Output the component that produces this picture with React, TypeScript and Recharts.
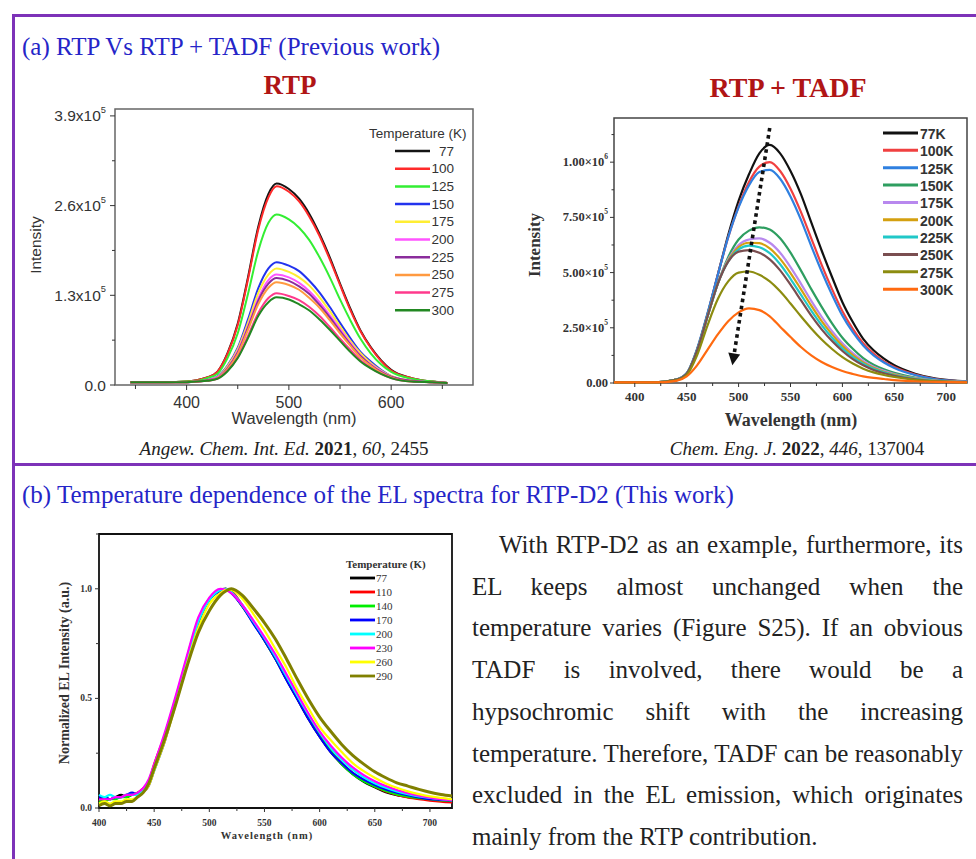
import React from "react";
import { LineChart, Line, XAxis, YAxis, ReferenceArea, ReferenceLine } from "recharts";

/* ────────────────────────────────────────── */
/*  Data: RTP (intensity in 10^3 units)        */
/* ────────────────────────────────────────── */

const rtpWavelengths = [345, 360, 380, 400, 410, 420, 430, 440, 450, 460, 470, 480, 488, 500, 510, 520, 530, 540, 550, 560, 570, 580, 590, 600, 620, 640, 655];

const rtpSeries = [
  { name: "77", color: "#141414", values: [4, 4, 4, 5, 7, 11, 19, 46, 89, 156, 229, 277, 292, 284, 270, 248, 219, 185, 147, 111, 79, 55, 36, 22, 10, 5, 3] },
  { name: "100", color: "#ff2a2a", values: [4, 4, 4, 5, 7, 11, 19, 45, 87, 153, 225, 272, 288, 280, 266, 244, 216, 182, 145, 109, 78, 54, 35, 21, 10, 5, 3] },
  { name: "125", color: "#33ee33", values: [4, 4, 4, 5, 6, 10, 16, 39, 75, 132, 194, 235, 247, 240, 228, 210, 185, 156, 124, 94, 67, 46, 30, 19, 9, 5, 3] },
  { name: "150", color: "#2233ee", values: [4, 4, 4, 4, 5, 7, 12, 28, 54, 95, 140, 169, 178, 173, 165, 151, 134, 113, 90, 68, 48, 34, 22, 13, 6, 4, 3] },
  { name: "175", color: "#ffee33", values: [4, 4, 4, 4, 5, 7, 11, 27, 52, 90, 133, 160, 169, 164, 156, 144, 127, 107, 85, 64, 46, 32, 21, 13, 6, 4, 3] },
  { name: "200", color: "#ff55ff", values: [4, 4, 4, 4, 5, 7, 11, 25, 49, 85, 125, 152, 160, 156, 148, 136, 120, 101, 81, 61, 43, 30, 20, 12, 6, 4, 3] },
  { name: "225", color: "#8b2c9c", values: [4, 4, 4, 4, 5, 7, 10, 24, 47, 83, 122, 147, 155, 151, 143, 132, 116, 98, 78, 59, 42, 29, 19, 12, 6, 4, 3] },
  { name: "250", color: "#ff9a40", values: [4, 4, 4, 4, 5, 6, 10, 23, 45, 80, 117, 141, 149, 145, 138, 126, 112, 94, 75, 57, 40, 28, 18, 11, 5, 4, 3] },
  { name: "275", color: "#ff3a8c", values: [4, 4, 4, 4, 5, 6, 9, 21, 40, 71, 104, 126, 133, 129, 123, 113, 100, 84, 67, 51, 36, 25, 16, 10, 5, 4, 3] },
  { name: "300", color: "#228822", values: [4, 4, 4, 4, 5, 6, 9, 20, 39, 68, 100, 120, 127, 124, 117, 108, 95, 80, 64, 48, 34, 24, 16, 10, 5, 4, 3] },
];

const rtpYTicks = [0, 65, 130, 195, 260, 325, 390];
const rtpYLabels = [0, 130, 260, 390];
const rtpXTicks = [350, 400, 450, 500, 550, 600, 650];
const rtpXLabels = [400, 500, 600];

/* ────────────────────────────────────────── */
/*  Data: RTP + TADF (intensity in 10^5 units) */
/* ────────────────────────────────────────── */

const tadfWavelengths = [380, 400, 420, 440, 450, 460, 470, 480, 490, 500, 510, 520, 530, 540, 550, 560, 570, 580, 590, 600, 610, 620, 630, 640, 650, 670, 690, 720];

const tadfSeries = [
  { name: "77K", color: "#111111", values: [0.03, 0.03, 0.03, 0.15, 0.42, 1.5, 3.1, 4.9, 6.7, 8.25, 9.45, 10.4, 10.78, 10.4, 9.6, 8.55, 7.27, 6.0, 4.8, 3.66, 2.76, 2.0, 1.48, 1.1, 0.8, 0.42, 0.2, 0.08] },
  { name: "100K", color: "#f04040", values: [0.03, 0.03, 0.03, 0.15, 0.42, 1.5, 3.1, 4.9, 6.6, 8.0, 9.1, 9.8, 10.0, 9.6, 8.8, 7.75, 6.55, 5.35, 4.25, 3.25, 2.45, 1.8, 1.33, 0.98, 0.72, 0.38, 0.18, 0.07] },
  { name: "125K", color: "#2f80e0", values: [0.03, 0.03, 0.03, 0.16, 0.45, 1.55, 3.15, 4.9, 6.6, 7.95, 8.95, 9.55, 9.65, 9.25, 8.45, 7.4, 6.2, 5.05, 4.0, 3.05, 2.3, 1.7, 1.25, 0.93, 0.68, 0.36, 0.17, 0.07] },
  { name: "150K", color: "#2e9e60", values: [0.03, 0.03, 0.03, 0.15, 0.42, 1.45, 3.0, 4.5, 5.7, 6.5, 6.9, 7.05, 6.95, 6.55, 5.9, 5.1, 4.25, 3.45, 2.7, 2.05, 1.55, 1.13, 0.83, 0.62, 0.46, 0.25, 0.12, 0.05] },
  { name: "175K", color: "#b888ee", values: [0.03, 0.03, 0.03, 0.15, 0.42, 1.45, 3.0, 4.5, 5.6, 6.25, 6.5, 6.55, 6.35, 5.9, 5.25, 4.5, 3.72, 3.0, 2.35, 1.8, 1.35, 1.0, 0.74, 0.55, 0.41, 0.22, 0.11, 0.05] },
  { name: "200K", color: "#d4a010", values: [0.03, 0.03, 0.03, 0.15, 0.42, 1.45, 3.0, 4.5, 5.55, 6.15, 6.35, 6.33, 6.1, 5.62, 4.98, 4.25, 3.5, 2.8, 2.2, 1.68, 1.26, 0.93, 0.69, 0.51, 0.38, 0.2, 0.1, 0.04] },
  { name: "225K", color: "#20c8c8", values: [0.03, 0.03, 0.03, 0.15, 0.42, 1.45, 3.0, 4.5, 5.5, 6.05, 6.22, 6.15, 5.88, 5.38, 4.72, 4.0, 3.28, 2.62, 2.05, 1.56, 1.17, 0.87, 0.64, 0.48, 0.35, 0.19, 0.09, 0.04] },
  { name: "250K", color: "#7a4e50", values: [0.03, 0.03, 0.03, 0.15, 0.42, 1.45, 3.0, 4.5, 5.5, 5.95, 6.02, 5.9, 5.6, 5.1, 4.45, 3.75, 3.05, 2.43, 1.9, 1.45, 1.08, 0.8, 0.59, 0.44, 0.33, 0.17, 0.08, 0.04] },
  { name: "275K", color: "#8c8c10", values: [0.03, 0.03, 0.03, 0.12, 0.36, 1.25, 2.6, 3.8, 4.6, 5.0, 5.05, 4.9, 4.6, 4.15, 3.6, 3.02, 2.47, 1.97, 1.54, 1.17, 0.88, 0.65, 0.48, 0.36, 0.27, 0.14, 0.07, 0.03] },
  { name: "300K", color: "#ff6a10", values: [0.03, 0.03, 0.03, 0.1, 0.3, 0.8, 1.5, 2.2, 2.8, 3.2, 3.38, 3.3, 3.02, 2.55, 2.08, 1.63, 1.25, 0.95, 0.72, 0.54, 0.41, 0.3, 0.23, 0.18, 0.13, 0.08, 0.05, 0.03] },
];

const tadfYTicks = [0, 1.25, 2.5, 3.75, 5, 6.25, 7.5, 8.75, 10, 11.25];
const tadfYLabels = [0, 2.5, 5, 7.5, 10];
const tadfXTicks = [400, 425, 450, 475, 500, 525, 550, 575, 600, 625, 650, 675, 700];
const tadfXLabels = [400, 450, 500, 550, 600, 650, 700];
// dotted arrow (wavelength, intensity)
const tadfArrow = [{ x: 530, y: 11.55 }, { x: 494, y: 0.8 }];

/* ────────────────────────────────────────── */
/*  Data: EL spectra (normalized)              */
/* ────────────────────────────────────────── */

const elWavelengths = [400, 405, 410, 415, 420, 425, 430, 435, 440, 445, 450, 460, 470, 480, 490, 500, 510, 515, 520, 530, 540, 550, 560, 570, 580, 590, 600, 610, 620, 630, 640, 650, 660, 670, 680, 690, 700, 710, 720];

const elSeries = [
  { name: "77", color: "#000000", values: [0.04, 0.05, 0.04, 0.05, 0.06, 0.05, 0.06, 0.06, 0.08, 0.12, 0.19, 0.33, 0.5, 0.68, 0.85, 0.95, 0.995, 1.0, 0.985, 0.92, 0.845, 0.765, 0.68, 0.585, 0.495, 0.405, 0.325, 0.255, 0.2, 0.155, 0.12, 0.095, 0.072, 0.058, 0.05, 0.045, 0.04, 0.036, 0.034] },
  { name: "110", color: "#ff0000", values: [0.03, 0.04, 0.04, 0.05, 0.05, 0.06, 0.06, 0.07, 0.09, 0.12, 0.2, 0.34, 0.51, 0.69, 0.86, 0.955, 0.995, 1.0, 0.99, 0.925, 0.85, 0.77, 0.685, 0.59, 0.5, 0.41, 0.33, 0.26, 0.205, 0.16, 0.125, 0.098, 0.075, 0.06, 0.048, 0.04, 0.034, 0.029, 0.025] },
  { name: "140", color: "#00ee00", values: [0.03, 0.03, 0.04, 0.04, 0.05, 0.05, 0.06, 0.07, 0.08, 0.12, 0.19, 0.33, 0.5, 0.68, 0.85, 0.95, 0.995, 1.0, 0.985, 0.92, 0.845, 0.765, 0.68, 0.59, 0.5, 0.41, 0.33, 0.26, 0.2, 0.155, 0.122, 0.098, 0.078, 0.062, 0.052, 0.045, 0.04, 0.035, 0.032] },
  { name: "170", color: "#0000ff", values: [0.05, 0.05, 0.04, 0.05, 0.05, 0.06, 0.07, 0.06, 0.07, 0.1, 0.17, 0.31, 0.49, 0.67, 0.84, 0.95, 0.99, 1.0, 0.98, 0.92, 0.84, 0.765, 0.68, 0.584, 0.495, 0.405, 0.325, 0.255, 0.205, 0.16, 0.13, 0.105, 0.085, 0.07, 0.058, 0.048, 0.04, 0.037, 0.035] },
  { name: "200", color: "#00ffff", values: [0.06, 0.05, 0.06, 0.05, 0.05, 0.06, 0.06, 0.06, 0.08, 0.11, 0.17, 0.32, 0.5, 0.68, 0.85, 0.95, 0.995, 1.0, 0.985, 0.925, 0.85, 0.775, 0.69, 0.6, 0.51, 0.425, 0.345, 0.275, 0.22, 0.175, 0.14, 0.113, 0.092, 0.076, 0.063, 0.053, 0.046, 0.04, 0.036] },
  { name: "230", color: "#ff00ff", values: [0.04, 0.04, 0.04, 0.05, 0.05, 0.06, 0.06, 0.07, 0.09, 0.13, 0.2, 0.35, 0.52, 0.7, 0.87, 0.96, 1.0, 0.995, 0.98, 0.925, 0.855, 0.78, 0.7, 0.61, 0.52, 0.43, 0.35, 0.285, 0.23, 0.185, 0.15, 0.122, 0.1, 0.082, 0.068, 0.056, 0.047, 0.04, 0.036] },
  { name: "260", color: "#ffff00", values: [0.02, 0.03, 0.02, 0.03, 0.03, 0.04, 0.04, 0.05, 0.07, 0.1, 0.17, 0.31, 0.48, 0.66, 0.82, 0.93, 0.98, 0.995, 0.995, 0.955, 0.885, 0.81, 0.725, 0.64, 0.54, 0.455, 0.37, 0.31, 0.255, 0.205, 0.168, 0.138, 0.112, 0.092, 0.076, 0.063, 0.053, 0.046, 0.04] },
  { name: "290", color: "#808000", values: [0.01, 0.02, 0.01, 0.02, 0.02, 0.03, 0.03, 0.05, 0.07, 0.11, 0.18, 0.32, 0.48, 0.65, 0.8, 0.9, 0.97, 0.99, 1.0, 0.97, 0.91, 0.845, 0.77, 0.68, 0.585, 0.495, 0.415, 0.35, 0.29, 0.24, 0.2, 0.165, 0.138, 0.115, 0.1, 0.085, 0.072, 0.062, 0.055] },
];

const elYTicks = [0, 0.25, 0.5, 0.75, 1.0, 1.25];
const elYLabels = [0, 0.5, 1.0];
const elXTicks = [400, 425, 450, 475, 500, 525, 550, 575, 600, 625, 650, 675, 700];
const elXLabels = [400, 450, 500, 550, 600, 650, 700];

const paragraphLines = [
  "With RTP-D2 as an example, furthermore, its",
  "EL keeps almost unchanged when the",
  "temperature varies (Figure S25). If an obvious",
  "TADF is involved, there would be a",
  "hypsochromic shift with the increasing",
  "temperature. Therefore, TADF can be reasonably",
  "excluded in the EL emission, which originates",
  "mainly from the RTP contribution.",
];

/* ────────────────────────────────────────── */
/*  Helpers                                    */
/* ────────────────────────────────────────── */

type Series = { name: string; color: string; values: number[] };

function buildRows(xs: number[], series: Series[]) {
  return xs.map((x, i) => {
    const row: Record<string, number> = { x };
    series.forEach((s) => (row[s.name] = s.values[i]));
    return row;
  });
}

const SERIF = "'Liberation Serif', 'Times New Roman', serif";
const SANS = "'Liberation Sans', Arial, sans-serif";
const PURPLE = "#7d32b8";

function makeXTick(o: { labels: number[]; len: number; minorLen: number; gap: number; font: string; size: number; weight?: number; color: string }) {
  return (props: any) => {
    const { x, y, payload } = props;
    const major = o.labels.includes(payload.value);
    return (
      <g>
        <line x1={x} y1={y} x2={x} y2={y + (major ? o.len : o.minorLen)} stroke="#333" strokeWidth={1} />
        {major && (
          <text x={x} y={y + o.gap} textAnchor="middle" dominantBaseline="central" fontFamily={o.font} fontSize={o.size} fontWeight={o.weight ?? 400} fill={o.color}>
            {payload.value}
          </text>
        )}
      </g>
    );
  };
}

function makeYTick(o: { labels: number[]; len: number; minorLen: number; gap: number; font: string; size: number; weight?: number; color: string; render: (v: number) => React.ReactNode }) {
  return (props: any) => {
    const { x, y, payload } = props;
    const major = o.labels.some((l) => Math.abs(l - payload.value) < 1e-9);
    return (
      <g>
        <line x1={x - (major ? o.len : o.minorLen)} y1={y} x2={x} y2={y} stroke="#333" strokeWidth={1} />
        {major && (
          <text x={x - o.gap} y={y} textAnchor="end" dominantBaseline="central" fontFamily={o.font} fontSize={o.size} fontWeight={o.weight ?? 400} fill={o.color}>
            {o.render(payload.value)}
          </text>
        )}
      </g>
    );
  };
}

function Sci({ mant, exp }: { mant: string; exp: string }) {
  return (
    <>
      {mant}
      <tspan dy={-6} fontSize="0.6em">{exp}</tspan>
    </>
  );
}

function Abs({ left, top, style, children }: any) {
  return <div style={{ position: "absolute", left, top, whiteSpace: "nowrap", ...style }}>{children}</div>;
}

function Citation({ cx, top, journal, year, rest }: { cx: number; top: number; journal: string; year: string; rest: React.ReactNode }) {
  return (
    <div style={{ position: "absolute", left: cx - 220, width: 440, top, textAlign: "center", fontFamily: SERIF, fontSize: 19, color: "#222", lineHeight: "22px" }}>
      <i>{journal} </i>
      <b>{year}</b>, {rest}
    </div>
  );
}

/* ────────────────────────────────────────── */
/*  App                                        */
/* ────────────────────────────────────────── */

export default function App() {
  const rtpRows = buildRows(rtpWavelengths, rtpSeries);
  const tadfRows = buildRows(tadfWavelengths, tadfSeries);
  const elRows = buildRows(elWavelengths, elSeries);

  const rtpFmt = (v: number) =>
    v === 0 ? "0.0" : <Sci mant={`${(v / 100).toFixed(1)}x10`} exp="5" />;
  const tadfFmt = (v: number) =>
    v === 0 ? "0.00" : v >= 10 ? <Sci mant={`${(v / 10).toFixed(2)}×10`} exp="6" /> : <Sci mant={`${v.toFixed(2)}×10`} exp="5" />;

  return (
    <div style={{ position: "absolute", left: 0, top: 0, width: 976, height: 859, background: "#fff", overflow: "hidden" }}>
      {/* frame */}
      <div style={{ position: "absolute", left: 12, top: 14, width: 970, height: 3, background: PURPLE }} />
      <div style={{ position: "absolute", left: 12, top: 14, width: 3, height: 850, background: PURPLE }} />
      <div style={{ position: "absolute", left: 12, top: 463, width: 970, height: 3, background: PURPLE }} />

      {/* headings */}
      <Abs left={22} top={32} style={{ fontFamily: SERIF, fontSize: 25, color: "#2525c8", lineHeight: "30px" }}>
        (a) RTP Vs RTP + TADF (Previous work)
      </Abs>
      <Abs left={22} top={480} style={{ fontFamily: SERIF, fontSize: 25, color: "#2525c8", lineHeight: "30px" }}>
        (b) Temperature dependence of the EL spectra for RTP-D2 (This work)
      </Abs>

      {/* ── RTP chart ── */}
      <div style={{ position: "absolute", left: 190, width: 200, top: 70, textAlign: "center", fontFamily: SERIF, fontWeight: 700, fontSize: 27, color: "#b01515", lineHeight: "30px" }}>RTP</div>
      <div style={{ position: "absolute", left: 0, top: 100 }}>
        <LineChart width={490} height={345} data={rtpRows} margin={{ top: 9, right: 17, left: 0, bottom: 0 }}>
          <XAxis dataKey="x" type="number" domain={[330, 680]} ticks={rtpXTicks} interval={0} tickSize={0} tickMargin={0} tickLine={false} axisLine={false} height={60}
            tick={makeXTick({ labels: rtpXLabels, len: 5, minorLen: 4, gap: 17, font: SANS, size: 16, color: "#333" })} />
          <YAxis type="number" domain={[0, 400]} ticks={rtpYTicks} interval={0} tickSize={0} tickMargin={0} tickLine={false} axisLine={false} width={115}
            tick={makeYTick({ labels: rtpYLabels, len: 5, minorLen: 3, gap: 9, font: SANS, size: 15.5, color: "#333", render: rtpFmt })} />
          <ReferenceArea x1={330} x2={680} y1={0} y2={400} fill="none" stroke="#666" strokeWidth={1.5} ifOverflow="extendDomain" />
          {rtpSeries.map((s) => (
            <Line key={s.name} dataKey={s.name} type="monotone" stroke={s.color} strokeWidth={2} dot={false} isAnimationActive={false} />
          ))}
        </LineChart>
      </div>
      <Abs left={36} top={245} style={{ fontFamily: SANS, fontSize: 15.5, color: "#333", transform: "translate(-50%,-50%) rotate(-90deg)", transformOrigin: "center" }}>Intensity</Abs>
      <div style={{ position: "absolute", left: 194, width: 200, top: 408, textAlign: "center", fontFamily: SANS, fontSize: 16.5, color: "#333", lineHeight: "20px" }}>Wavelength (nm)</div>
      <svg style={{ position: "absolute", left: 0, top: 0 }} width={976} height={859}>
        <text x={369} y={133} dominantBaseline="central" fontFamily={SANS} fontSize={13.5} fill="#333">Temperature (K)</text>
        {rtpSeries.map((s, i) => (
          <g key={s.name}>
            <line x1={395} x2={430} y1={151 + i * 17.7} y2={151 + i * 17.7} stroke={s.color} strokeWidth={2.5} />
            <text x={454} y={151 + i * 17.7} textAnchor="end" dominantBaseline="central" fontFamily={SANS} fontSize={13.5} fill="#333">{s.name}</text>
          </g>
        ))}
      </svg>
      <Citation cx={284} top={438} journal="Angew. Chem. Int. Ed." year="2021" rest={<><i>60</i>, 2455</>} />

      {/* ── RTP + TADF chart ── */}
      <div style={{ position: "absolute", left: 638, width: 300, top: 73, textAlign: "center", fontFamily: SERIF, fontWeight: 700, fontSize: 28, color: "#b01515", lineHeight: "30px" }}>RTP + TADF</div>
      <div style={{ position: "absolute", left: 510, top: 105 }}>
        <LineChart width={466} height={330} data={tadfRows} margin={{ top: 13, right: 9, left: 0, bottom: 0 }}>
          <XAxis dataKey="x" type="number" domain={[380, 720]} ticks={tadfXTicks} interval={0} tickSize={0} tickMargin={0} tickLine={false} axisLine={false} height={52}
            tick={makeXTick({ labels: tadfXLabels, len: 4, minorLen: 3, gap: 13, font: SERIF, size: 13, weight: 700, color: "#333" })} />
          <YAxis type="number" domain={[0, 12]} ticks={tadfYTicks} interval={0} tickSize={0} tickMargin={0} tickLine={false} axisLine={false} width={104}
            tick={makeYTick({ labels: tadfYLabels, len: 4, minorLen: 2.5, gap: 6, font: SERIF, size: 12.5, weight: 700, color: "#333", render: tadfFmt })} />
          <ReferenceArea x1={380} x2={720} y1={0} y2={12} fill="none" stroke="#444" strokeWidth={1.5} ifOverflow="extendDomain" />
          {tadfSeries.map((s) => (
            <Line key={s.name} dataKey={s.name} type="monotone" stroke={s.color} strokeWidth={2.2} dot={false} isAnimationActive={false} />
          ))}
          <ReferenceLine
            segment={tadfArrow}
            ifOverflow="visible"
            shape={(p: any) => {
              const { x1, y1, x2, y2 } = p;
              const ang = Math.atan2(y2 - y1, x2 - x1);
              const hl = 12, hw = 6;
              const bx = x2 - hl * Math.cos(ang), by = y2 - hl * Math.sin(ang);
              const nx = -Math.sin(ang) * hw, ny = Math.cos(ang) * hw;
              return (
                <g>
                  <line x1={x1} y1={y1} x2={bx} y2={by} stroke="#111" strokeWidth={3.6} strokeDasharray="3.6 3.6" />
                  <polygon points={`${x2},${y2} ${bx + nx},${by + ny} ${bx - nx},${by - ny}`} fill="#111" />
                </g>
              );
            }}
          />
        </LineChart>
      </div>
      <Abs left={535} top={245} style={{ fontFamily: SERIF, fontWeight: 700, fontSize: 17, color: "#333", transform: "translate(-50%,-50%) rotate(-90deg)", transformOrigin: "center" }}>Intensity</Abs>
      <div style={{ position: "absolute", left: 671, width: 240, top: 409, textAlign: "center", fontFamily: SERIF, fontWeight: 700, fontSize: 18, color: "#333", lineHeight: "22px" }}>Wavelength (nm)</div>
      <svg style={{ position: "absolute", left: 0, top: 0 }} width={976} height={859}>
        {tadfSeries.map((s, i) => (
          <g key={s.name}>
            <line x1={883} x2={918} y1={133 + i * 17.35} y2={133 + i * 17.35} stroke={s.color} strokeWidth={3} />
            <text x={920} y={134 + i * 17.35} dominantBaseline="central" fontFamily={SANS} fontWeight={700} fontSize={14} fill="#333">{s.name}</text>
          </g>
        ))}
      </svg>
      <Citation cx={797} top={438} journal="Chem. Eng. J." year="2022" rest={<><i>446</i>, 137004</>} />

      {/* ── EL chart ── */}
      <div style={{ position: "absolute", left: 0, top: 520 }}>
        <LineChart width={470} height={330} data={elRows} margin={{ top: 14, right: 18, left: 0, bottom: 0 }}>
          <XAxis dataKey="x" type="number" domain={[400, 720]} ticks={elXTicks} interval={0} tickSize={0} tickMargin={0} tickLine={false} axisLine={false} height={42}
            tick={makeXTick({ labels: elXLabels, len: 4, minorLen: 3, gap: 15, font: SERIF, size: 9.5, weight: 700, color: "#333" })} />
          <YAxis type="number" domain={[0, 1.25]} ticks={elYTicks} interval={0} tickSize={0} tickMargin={0} tickLine={false} axisLine={false} width={99}
            tick={makeYTick({ labels: elYLabels, len: 4, minorLen: 3, gap: 7, font: SERIF, size: 9.5, weight: 700, color: "#333", render: (v) => v.toFixed(1) })} />
          <ReferenceArea x1={400} x2={720} y1={0} y2={1.25} fill="none" stroke="#111" strokeWidth={1.8} ifOverflow="extendDomain" />
          {elSeries.map((s) => (
            <Line key={s.name} dataKey={s.name} type="monotone" stroke={s.color} strokeWidth={s.name === "290" ? 3 : 2.2} dot={false} isAnimationActive={false} />
          ))}
        </LineChart>
      </div>
      <Abs left={65} top={673} style={{ fontFamily: SERIF, fontWeight: 700, fontSize: 14, color: "#333", transform: "translate(-50%,-50%) rotate(-90deg)", transformOrigin: "center" }}>Normalized EL Intensity (a.u.)</Abs>
      <div style={{ position: "absolute", left: 167, width: 200, top: 829, textAlign: "center", fontFamily: SERIF, fontWeight: 700, fontSize: 10.5, letterSpacing: 1, color: "#333", lineHeight: "14px" }}>Wavelength (nm)</div>
      <svg style={{ position: "absolute", left: 0, top: 0 }} width={976} height={859}>
        <text x={346} y={564} dominantBaseline="central" fontFamily={SERIF} fontWeight={700} fontSize={11} fill="#333">Temperature (K)</text>
        {elSeries.map((s, i) => (
          <g key={s.name}>
            <line x1={350} x2={375} y1={578 + i * 14} y2={578 + i * 14} stroke={s.color} strokeWidth={2.8} />
            <text x={376} y={578 + i * 14} dominantBaseline="central" fontFamily={SERIF} fontSize={11} fill="#333">{s.name}</text>
          </g>
        ))}
      </svg>

      {/* ── paragraph ── */}
      <div style={{ position: "absolute", left: 472, top: 524, width: 491, fontFamily: SERIF, fontSize: 25, color: "#222", lineHeight: "41.7px" }}>
        {paragraphLines.map((ln, i) => (
          <div
            key={i}
            style={{
              textAlign: "justify",
              textAlignLast: i < paragraphLines.length - 1 ? "justify" : "left",
              paddingLeft: i === 0 ? 27 : 0,
              whiteSpace: "nowrap",
            }}
          >
            {ln}
          </div>
        ))}
      </div>
    </div>
  );
}
